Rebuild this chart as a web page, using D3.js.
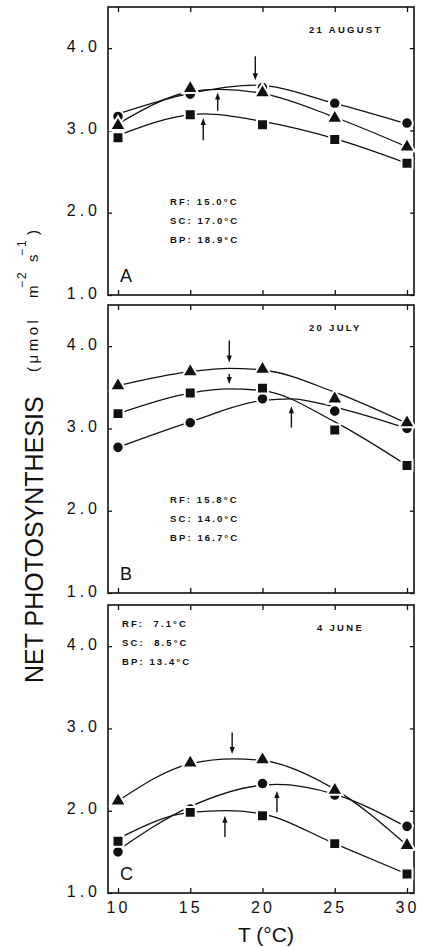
<!DOCTYPE html>
<html>
<head>
<meta charset="utf-8">
<script src="https://cdn.jsdelivr.net/npm/d3@7"></script>
<style>
  body { margin: 0; background: #fff; }
  svg { display: block; font-family: "Liberation Sans", Arial, sans-serif; }
</style>
</head>
<body>
<div id="container"></div>
<script>
// temperatures and ticks
var temps = [10, 15, 20, 25, 30];
var yTicks = [1.0, 2.0, 3.0, 4.0];
var panelLetters = ["A", "B", "C"];
var panelDates = ["21 AUGUST", "20 JULY", "4 JUNE"];
var siteTemps = [
    ["RF: 15.0°C", "SC: 17.0°C", "BP: 18.9°C"],
    ["RF: 15.8°C", "SC: 14.0°C", "BP: 16.7°C"],
    ["RF:  7.1°C", "SC:  8.5°C", "BP: 13.4°C"]
];

// measured points (one value per temperature)
var circleA = [3.17, 3.44, 3.52, 3.33, 3.09];
var triangleA = [3.06, 3.51, 3.46, 3.15, 2.80];
var squareA = [2.91, 3.19, 3.07, 2.89, 2.60];
var circleB = [2.77, 3.07, 3.36, 3.21, 3.00];
var triangleB = [3.52, 3.69, 3.72, 3.36, 3.07];
var squareB = [3.18, 3.43, 3.49, 2.98, 2.55];
var circleC = [1.50, 2.02, 2.33, 2.19, 1.81];
var triangleC = [2.12, 2.58, 2.62, 2.25, 1.58];
var squareC = [1.63, 1.98, 1.94, 1.60, 1.23];

// fitted curves [T, value]
var fitCircleA = [[10, 3.20], [15, 3.45], [19.5, 3.55], [25, 3.33], [30, 3.08]];
var fitTriangleA = [[10, 3.08], [15, 3.47], [17, 3.50], [20, 3.45], [25, 3.16], [30, 2.80]];
var fitSquareA = [[10, 2.94], [15, 3.19], [16, 3.20], [20, 3.11], [25, 2.90], [30, 2.60]];
var fitCircleB = [[10, 2.77], [15, 3.08], [20, 3.34], [22, 3.36], [25, 3.26], [30, 3.00]];
var fitTriangleB = [[10, 3.52], [15, 3.69], [17.7, 3.73], [20, 3.71], [25, 3.44], [30, 3.06]];
var fitSquareB = [[10, 3.18], [15, 3.43], [17.7, 3.48], [20, 3.46], [25, 3.08], [30, 2.55]];
var fitCircleC = [[10, 1.52], [15, 2.05], [20, 2.31], [21, 2.32], [25, 2.20], [30, 1.80]];
var fitTriangleC = [[10, 2.12], [15, 2.57], [18, 2.63], [20, 2.61], [25, 2.26], [30, 1.58]];
var fitSquareC = [[10, 1.66], [15, 1.98], [17.5, 2.00], [20, 1.96], [25, 1.60], [30, 1.23]];

// optimum arrows: t, tail value, tip value
var arrowsA = [{t: 19.5, from: 3.90, to: 3.61}, {t: 16.9, from: 3.24, to: 3.46}, {t: 15.9, from: 2.88, to: 3.15}];
var arrowsB = [{t: 17.7, from: 4.07, to: 3.80}, {t: 17.7, from: 3.66, to: 3.54}, {t: 22.0, from: 3.01, to: 3.27}];
var arrowsC = [{t: 17.9, from: 2.95, to: 2.69}, {t: 21.0, from: 1.98, to: 2.24}, {t: 17.4, from: 1.68, to: 1.94}];

var panels = [
    {points: [circleA, triangleA, squareA], fits: [fitCircleA, fitTriangleA, fitSquareA], arrows: arrowsA},
    {points: [circleB, triangleB, squareB], fits: [fitCircleB, fitTriangleB, fitSquareB], arrows: arrowsB},
    {points: [circleC, triangleC, squareC], fits: [fitCircleC, fitTriangleC, fitSquareC], arrows: arrowsC}
];
var symbols = [d3.symbolCircle, d3.symbolTriangle, d3.symbolSquare];
var symbolSizes = [105, 110, 120];

var width = 422;
var height = 947;
var frameLeft = 108, frameRight = 414;
var tops = [7, 305, 605];
var bottoms = [295, 593, 893];

var svg = d3.select("#container")
    .append("svg")
    .attr("width", width)
    .attr("height", height);

var x = d3.scaleLinear().domain([10, 30]).range([118, 407]);

panels.forEach(function (p, i) {
    var y = d3.scaleLinear().domain([1, 4.5]).range([bottoms[i], tops[i]]);
    var g = svg.append("g");

    // frame
    g.append("rect")
        .attr("x", frameLeft).attr("y", tops[i])
        .attr("width", frameRight - frameLeft).attr("height", bottoms[i] - tops[i])
        .attr("fill", "none").attr("stroke", "#111").attr("stroke-width", 1.6);

    // left axis with labels
    var left = g.append("g").attr("transform", "translate(" + frameLeft + ",0)")
        .call(d3.axisLeft(y).tickValues(yTicks).tickSize(-4).tickPadding(7).tickFormat(d3.format(".1f")));
    left.select(".domain").remove();
    left.selectAll("text")
        .attr("font-size", 16).attr("fill", "#111")
        .attr("letter-spacing", "4px")
        .attr("font-family", "Liberation Sans, Arial, sans-serif")
        .attr("dy", "0.2em");

    var right = g.append("g").attr("transform", "translate(" + frameRight + ",0)")
        .call(d3.axisRight(y).tickValues(yTicks).tickSize(-4).tickFormat(""));
    right.select(".domain").remove();

    var top = g.append("g").attr("transform", "translate(0," + tops[i] + ")")
        .call(d3.axisTop(x).tickValues(temps).tickSize(-5).tickFormat(""));
    top.select(".domain").remove();

    var bottom = g.append("g").attr("transform", "translate(0," + bottoms[i] + ")")
        .call(d3.axisBottom(x).tickValues(temps).tickSize(-5).tickPadding(9)
            .tickFormat(i == 2 ? d3.format("d") : ""));
    bottom.select(".domain").remove();
    bottom.selectAll("text")
        .attr("font-size", 16).attr("fill", "#111")
        .attr("letter-spacing", "3px")
        .attr("font-family", "Liberation Sans, Arial, sans-serif");

    g.selectAll(".tick line").attr("stroke", "#111").attr("stroke-width", 1.3);

    // fitted curves
    var line = d3.line()
        .x(function (d) { return x(d[0]); })
        .y(function (d) { return y(d[1]); })
        .curve(d3.curveMonotoneX);
    g.selectAll(".fit")
        .data(p.fits)
        .enter()
        .append("path")
        .attr("class", "fit")
        .attr("d", line)
        .attr("fill", "none")
        .attr("stroke", "#111")
        .attr("stroke-width", 1.3);

    // markers
    p.points.forEach(function (vals, s) {
        g.selectAll(".m" + s)
            .data(vals)
            .enter()
            .append("path")
            .attr("class", "m" + s)
            .attr("transform", function (d, k) { return "translate(" + x(temps[k]) + "," + y(d) + ")"; })
            .attr("d", d3.symbol().type(symbols[s]).size(symbolSizes[s]))
            .attr("fill", "#111")
            .attr("stroke", "#fff")
            .attr("stroke-width", 2);
    });

    // arrows
    p.arrows.forEach(function (a) {
        var ax = x(a.t), y0 = y(a.from), y1 = y(a.to);
        var dir = y1 > y0 ? 1 : -1;
        g.append("line")
            .attr("x1", ax).attr("x2", ax)
            .attr("y1", y0).attr("y2", y1 - dir * 5)
            .attr("stroke", "#111").attr("stroke-width", 1.4);
        g.append("path")
            .attr("d", "M" + (ax - 2.6) + "," + (y1 - dir * 7) + "L" + (ax + 2.6) + "," + (y1 - dir * 7) + "L" + ax + "," + y1 + "Z")
            .attr("fill", "#111");
    });

    // panel letter
    g.append("text")
        .attr("x", 120).attr("y", bottoms[i] - 13)
        .attr("font-size", 18).attr("fill", "#111")
        .text(panelLetters[i]);

    // date
    g.append("text")
        .attr("x", i == 2 ? 317 : 309).attr("y", tops[i] + 26)
        .attr("font-size", 9.5).attr("font-weight", "bold")
        .attr("letter-spacing", "2.3px").attr("fill", "#111")
        .text(panelDates[i]);

    // site temperatures
    var sx = i == 2 ? 122 : 170;
    var sy = i == 2 ? tops[i] + 22 : tops[i] + 198;
    g.selectAll(".site")
        .data(siteTemps[i])
        .enter()
        .append("text")
        .attr("class", "site")
        .attr("x", sx)
        .attr("y", function (d, k) { return sy + k * 19; })
        .attr("font-size", 9.5).attr("font-weight", "bold")
        .attr("letter-spacing", "2.1px").attr("fill", "#111")
        .style("white-space", "pre")
        .text(function (d) { return d; });
});

// x axis title
svg.append("text")
    .attr("x", 266).attr("y", 942)
    .attr("text-anchor", "middle")
    .attr("font-size", 21).attr("fill", "#111")
    .text("T (°C)");

// y axis title, rotated pieces
function vtext(xb, ys, size, str) {
    return svg.append("text")
        .attr("transform", "translate(" + xb + "," + ys + ") rotate(-90)")
        .attr("font-size", size).attr("fill", "#111")
        .text(str);
}
vtext(43, 683, 25, "NET PHOTOSYNTHESIS");
vtext(38, 372, 15, "(μmol").attr("letter-spacing", "3.5px");
vtext(38, 298, 15, "m");
vtext(26, 288, 12, "−2").attr("letter-spacing", "2px");
vtext(38, 262, 15, "s");
vtext(26, 256, 12, "−1").attr("letter-spacing", "2px");
vtext(38, 235, 15, ")");
</script>
</body>
</html>
